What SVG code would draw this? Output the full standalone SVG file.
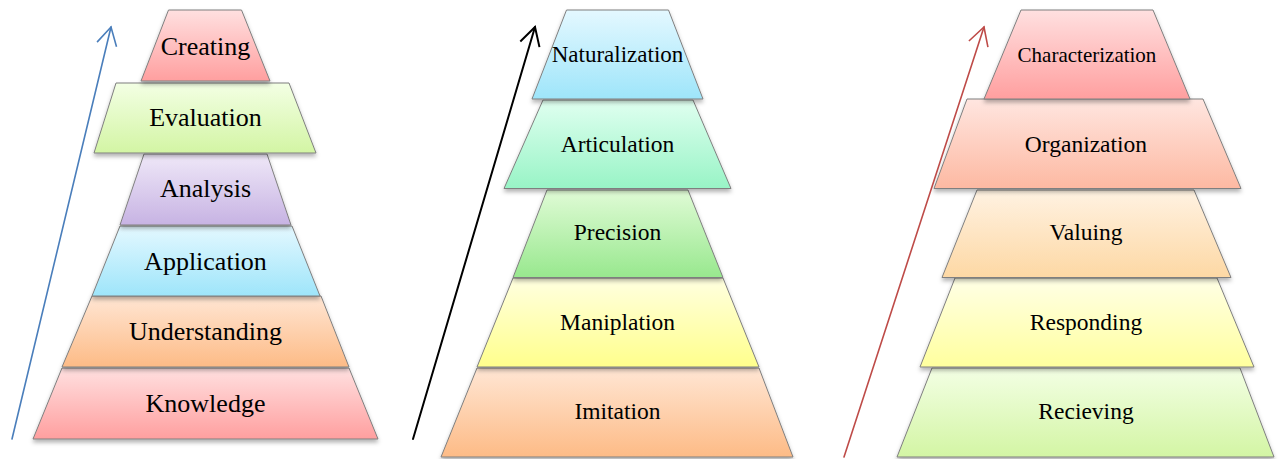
<svg xmlns="http://www.w3.org/2000/svg" width="1280" height="459" viewBox="0 0 1280 459">
  <style>
    .tier { stroke: #7f7f7f; stroke-width: 1; filter: url(#shadow); }
    .lbl { font-family: "Liberation Serif", "Times New Roman", serif; fill: #000; text-anchor: middle; }
    .big { font-size: 26px; }
    .mid { font-size: 23.5px; }
    .axis { fill: none; stroke-linecap: round; }
  </style>
  <defs>
    <filter id="shadow" x="-10%" y="-10%" width="120%" height="130%">
      <feDropShadow dx="0" dy="3" stdDeviation="2" flood-color="#000" flood-opacity="0.3"/>
    </filter>
    <linearGradient id="gRed" x1="0" y1="0" x2="0" y2="1">
      <stop offset="0" stop-color="#ffe0e0"/><stop offset="1" stop-color="#ff9f9f"/>
    </linearGradient>
    <linearGradient id="gLime" x1="0" y1="0" x2="0" y2="1">
      <stop offset="0" stop-color="#f3ffe4"/><stop offset="1" stop-color="#d3f5a4"/>
    </linearGradient>
    <linearGradient id="gPurple" x1="0" y1="0" x2="0" y2="1">
      <stop offset="0" stop-color="#efe8f8"/><stop offset="1" stop-color="#c7b3e3"/>
    </linearGradient>
    <linearGradient id="gBlue" x1="0" y1="0" x2="0" y2="1">
      <stop offset="0" stop-color="#e4f8ff"/><stop offset="1" stop-color="#9ee5fa"/>
    </linearGradient>
    <linearGradient id="gOrange" x1="0" y1="0" x2="0" y2="1">
      <stop offset="0" stop-color="#ffe6d4"/><stop offset="1" stop-color="#fdbb86"/>
    </linearGradient>
    <linearGradient id="gMint" x1="0" y1="0" x2="0" y2="1">
      <stop offset="0" stop-color="#e0fff0"/><stop offset="1" stop-color="#98f4c6"/>
    </linearGradient>
    <linearGradient id="gGreen" x1="0" y1="0" x2="0" y2="1">
      <stop offset="0" stop-color="#e0fbd6"/><stop offset="1" stop-color="#98e88e"/>
    </linearGradient>
    <linearGradient id="gYellow" x1="0" y1="0" x2="0" y2="1">
      <stop offset="0" stop-color="#ffffe0"/><stop offset="1" stop-color="#ffff8c"/>
    </linearGradient>
    <linearGradient id="gSalmon" x1="0" y1="0" x2="0" y2="1">
      <stop offset="0" stop-color="#ffe6e0"/><stop offset="1" stop-color="#fdb9a2"/>
    </linearGradient>
    <linearGradient id="gPeach" x1="0" y1="0" x2="0" y2="1">
      <stop offset="0" stop-color="#fff2e2"/><stop offset="1" stop-color="#fdd8a4"/>
    </linearGradient>
    <linearGradient id="gPaleYellow" x1="0" y1="0" x2="0" y2="1">
      <stop offset="0" stop-color="#ffffe6"/><stop offset="1" stop-color="#ffff9e"/>
    </linearGradient>
    <marker id="headBlue" markerUnits="userSpaceOnUse" viewBox="-25 -15 30 30" markerWidth="30" markerHeight="30" refX="0" refY="0" orient="auto" overflow="visible">
      <path d="M-18,-10 L0,0 L-18,10" fill="none" stroke="#4a7ebb" stroke-width="1.6"/>
    </marker>
    <marker id="headBlack" markerUnits="userSpaceOnUse" viewBox="-25 -15 30 30" markerWidth="30" markerHeight="30" refX="0" refY="0" orient="auto" overflow="visible">
      <path d="M-18,-10 L0,0 L-18,10" fill="none" stroke="#000" stroke-width="2"/>
    </marker>
    <marker id="headRed" markerUnits="userSpaceOnUse" viewBox="-25 -15 30 30" markerWidth="30" markerHeight="30" refX="0" refY="0" orient="auto" overflow="visible">
      <path d="M-18,-10 L0,0 L-18,10" fill="none" stroke="#be4b48" stroke-width="1.6"/>
    </marker>
  </defs>

  <!-- Cognitive domain -->
  <g id="knowledge">
    <polygon class="tier" fill="url(#gRed)" points="62,368 349,368 378,439 33,439"/>
    <text class="lbl big" x="205.5" y="412">Knowledge</text>
  </g>
  <g id="understanding">
    <polygon class="tier" fill="url(#gOrange)" points="92,296 321,296 349,367 62,367"/>
    <text class="lbl big" x="205.5" y="339.5">Understanding</text>
  </g>
  <g id="application">
    <polygon class="tier" fill="url(#gBlue)" points="120,226 292,226 320,296 92,296"/>
    <text class="lbl big" x="205.5" y="269.5">Application</text>
  </g>
  <g id="analysis">
    <polygon class="tier" fill="url(#gPurple)" points="144,154 267,154 291,225 120,225"/>
    <text class="lbl big" x="205.5" y="197">Analysis</text>
  </g>
  <g id="evaluation">
    <polygon class="tier" fill="url(#gLime)" points="116,83 289,83 316,153 94,153"/>
    <text class="lbl big" x="205.5" y="126">Evaluation</text>
  </g>
  <g id="creating">
    <polygon class="tier" fill="url(#gRed)" points="168.5,10 241.5,10 270,81 141,81"/>
    <text class="lbl big" x="205.5" y="54.5">Creating</text>
  </g>

  <!-- Psychomotor domain -->
  <g id="imitation">
    <polygon class="tier" fill="url(#gOrange)" points="477,368 759,368 793,457 441,457"/>
    <text class="lbl mid" x="617.5" y="419">Imitation</text>
  </g>
  <g id="maniplation">
    <polygon class="tier" fill="url(#gYellow)" points="513,278 723,278 759,367 477,367"/>
    <text class="lbl mid" x="617.5" y="330">Maniplation</text>
  </g>
  <g id="precision">
    <polygon class="tier" fill="url(#gGreen)" points="547,190 688,190 723,277.5 513,277.5"/>
    <text class="lbl mid" x="617.5" y="240">Precision</text>
  </g>
  <g id="articulation">
    <polygon class="tier" fill="url(#gMint)" points="543,100 693,100 731,188.5 504,188.5"/>
    <text class="lbl mid" x="617.5" y="151.5">Articulation</text>
  </g>
  <g id="naturalization">
    <polygon class="tier" fill="url(#gBlue)" points="566.5,10 668.5,10 703,99 532,99"/>
    <text class="lbl" style="font-size:23px" x="617.5" y="62">Naturalization</text>
  </g>

  <!-- Affective domain -->
  <g id="recieving">
    <polygon class="tier" fill="url(#gLime)" points="932,368 1240,368 1274,457 897,457"/>
    <text class="lbl mid" x="1086" y="419">Recieving</text>
  </g>
  <g id="responding">
    <polygon class="tier" fill="url(#gPaleYellow)" points="955,278 1217,278 1254,367 920,367"/>
    <text class="lbl mid" x="1086" y="330">Responding</text>
  </g>
  <g id="valuing">
    <polygon class="tier" fill="url(#gPeach)" points="977,190 1194,190 1231,277.5 942,277.5"/>
    <text class="lbl mid" x="1086" y="240">Valuing</text>
  </g>
  <g id="organization">
    <polygon class="tier" fill="url(#gSalmon)" points="967,99 1203,99 1241,188.5 934,188.5"/>
    <text class="lbl mid" x="1086" y="151.5">Organization</text>
  </g>
  <g id="characterization">
    <polygon class="tier" fill="url(#gRed)" points="1021,10 1153,10 1190,99 984,99"/>
    <text class="lbl" style="font-size:21px" x="1087" y="62">Characterization</text>
  </g>

  <!-- Rising arrows beside each pyramid -->
  <g id="connectors">
    <line class="axis" x1="12" y1="439" x2="111" y2="27" stroke="#4a7ebb" stroke-width="1.6" marker-end="url(#headBlue)"/>
    <line class="axis" x1="413" y1="439" x2="535" y2="27" stroke="#000" stroke-width="2" marker-end="url(#headBlack)"/>
    <line class="axis" x1="844" y1="457" x2="984" y2="27" stroke="#be4b48" stroke-width="1.6" marker-end="url(#headRed)"/>
  </g>
</svg>
